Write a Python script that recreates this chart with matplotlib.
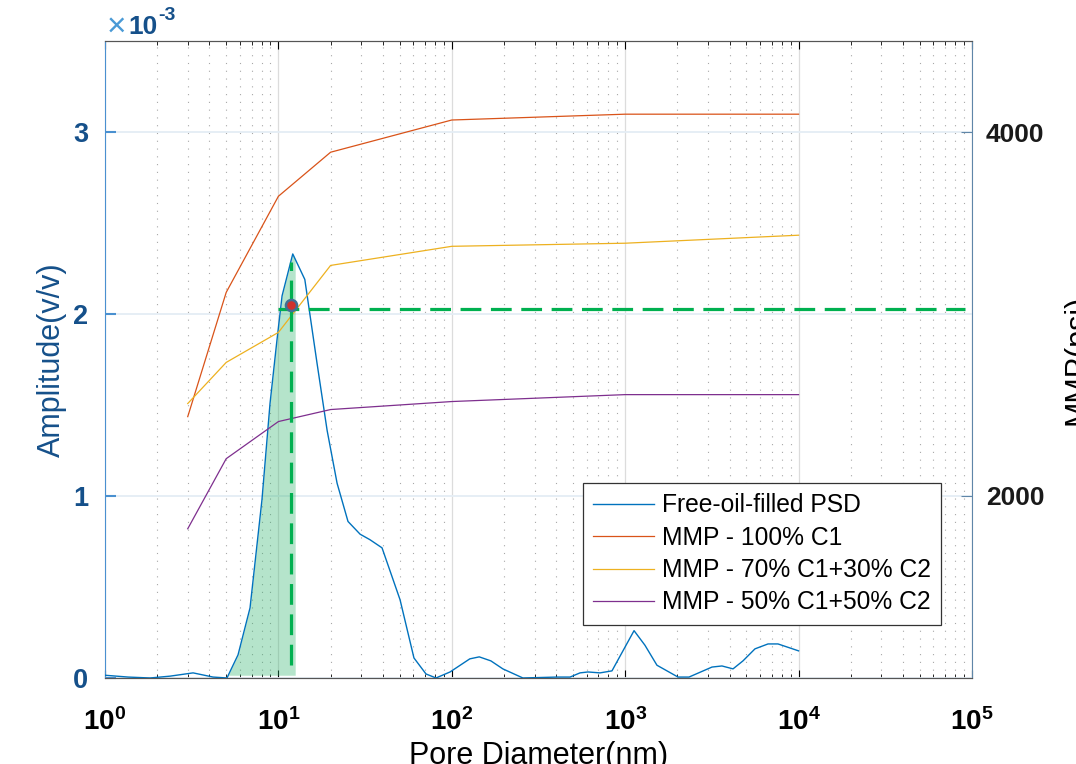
import numpy as np
import matplotlib
matplotlib.use('Agg')
import matplotlib.pyplot as plt
from matplotlib.ticker import LogLocator, NullFormatter, FixedLocator, FuncFormatter

plt.rcParams['font.family'] = ['Liberation Sans', 'DejaVu Sans']

# pore size distribution (free-oil-filled), amplitude in units of 1e-3 v/v
psd_diam = [1.0, 1.36, 1.82, 2.37, 3.22, 4.2, 5.05, 5.85, 6.86, 8.04, 8.95, 9.82,
            10.5, 12.1, 14.2, 16.7, 19.1, 21.8, 25.2, 29.6, 33.7, 39.6, 50.3, 60.5,
            71.0, 81.1, 97.7, 127, 144, 168, 197, 257, 404, 481, 549, 610, 716, 839,
            1125, 1300, 1525, 2017, 2334, 3167, 3616, 4188, 4781, 5605, 6664, 7609, 10000]
psd_amp = [0.015, 0.005, 0.0, 0.01, 0.028, 0.005, 0.0, 0.127, 0.385, 0.98, 1.51, 1.86,
           2.10, 2.33, 2.19, 1.73, 1.36, 1.07, 0.86, 0.79, 0.76, 0.715, 0.43, 0.11,
           0.022, 0.0, 0.033, 0.105, 0.116, 0.094, 0.05, 0.0, 0.005, 0.005, 0.028, 0.033,
           0.028, 0.039, 0.26, 0.18, 0.07, 0.005, 0.005, 0.06, 0.066, 0.05, 0.094, 0.16,
           0.187, 0.187, 0.149]

# MMP vs pore diameter (psi)
mmp_diam = [3, 5, 10, 20, 100, 1000, 10000]
mmp_c1 = [2436, 3119, 3647, 3889, 4066, 4098, 4098]
mmp_c1c2_70 = [2508, 2734, 2899, 3267, 3372, 3389, 3433]
mmp_c1c2_50 = [1820, 2205, 2409, 2475, 2519, 2557, 2557]

labels = ['Free-oil-filled PSD', 'MMP - 100% C1', 'MMP - 70% C1+30% C2', 'MMP - 50% C1+50% C2']

# highlighted point
mark_d = 11.8
mark_mmp = 3030
fill_lo, fill_hi = 5.05, 12.5

blue = '#0072BD'
fig = plt.figure(figsize=(10.76, 7.64), dpi=100)
ax = fig.add_axes([0.0976, 0.1126, 0.8057, 0.8337])
ax2 = ax.twinx()

x = np.array(psd_diam)
y = np.array(psd_amp) * 1e-3

# shaded area under the PSD
xf = np.logspace(np.log10(fill_lo), np.log10(fill_hi), 200)
yf = np.interp(np.log10(xf), np.log10(x), y)
ax.fill_between(xf, 0.015e-3, yf, color='#2db36b', alpha=0.35, lw=0, zorder=2)

l0, = ax.plot(x, y, color=blue, lw=1.0, zorder=3)

ax.set_xscale('log')
ax.set_xlim(1, 1e5)
ax.set_ylim(0, 3.5e-3)
ax.yaxis.set_major_locator(FixedLocator([0, 1e-3, 2e-3, 3e-3]))
ax.yaxis.set_major_formatter(FuncFormatter(lambda v, p: '%d' % round(v * 1e3)))
ax.xaxis.set_major_locator(LogLocator(base=10, numticks=10))
ax.xaxis.set_minor_locator(LogLocator(base=10, subs=np.arange(2, 10), numticks=20))
ax.xaxis.set_minor_formatter(NullFormatter())

ax.grid(which='major', axis='x', color='#dcdcdc', lw=0.9)
ax.grid(which='minor', axis='x', color='#a8a8a8', lw=0.8, linestyle=(0, (1, 6)))
ax.grid(which='major', axis='y', color='#e4edf5', lw=1.3)

# MMP curves on the right axis
l1, = ax2.plot(mmp_diam, mmp_c1, color='#D95319', lw=0.9)
l2, = ax2.plot(mmp_diam, mmp_c1c2_70, color='#EDB120', lw=0.9)
l3, = ax2.plot(mmp_diam, mmp_c1c2_50, color='#7E2F8E', lw=0.9)
ax2.set_ylim(1000, 4500)
ax2.set_yticks([2000, 4000])

# green guide lines and marker
ax2.plot([mark_d, mark_d], [1072, 3284], color='#00b050', lw=2.3, dashes=(6.5, 3))
ax2.plot([10.0, 91000], [mark_mmp, mark_mmp], color='#00b050', lw=2.3, dashes=(6.5, 3))
ax2.plot(mark_d, mark_mmp + 20, 'o', ms=8, mfc='#d0312d', mec='#3f6f94', mew=1.8, zorder=5)

# tick / spine styling
for a in (ax, ax2):
    a.tick_params(which='both', direction='in', top=True)
ax.tick_params(axis='x', which='major', length=6, labelsize=20, pad=22)
ax.tick_params(axis='x', which='minor', length=3)
ax.tick_params(axis='y', colors='#4a90d0', labelcolor='#15508a', labelsize=19.5, length=8, width=1.5, pad=12)
ax2.tick_params(axis='y', colors='#5f86a8', labelcolor='#1a1a1a', labelsize=19, length=8, pad=10)
for lab in ax.get_xticklabels() + ax.get_yticklabels() + ax2.get_yticklabels():
    lab.set_fontweight('bold')

ax.spines['left'].set_color('#4a90d0')
ax2.spines['left'].set_visible(False)
ax2.spines['right'].set_color('#5f86a8')
for a in (ax, ax2):
    a.spines['top'].set_color('#555555')
    a.spines['bottom'].set_color('#555555')
ax.spines['right'].set_visible(False)

ax.set_ylabel('Amplitude(v/v)', color='#15508a', fontsize=22, va='center')
ax.yaxis.set_label_coords(-0.061, 0.5)
ax.set_xlabel('Pore Diameter(nm)', fontsize=22, va='center')
ax.xaxis.set_label_coords(0.5, -0.122)
ax2.set_ylabel('MMP(psi)', fontsize=22, va='center')
ax2.yaxis.set_label_coords(1.122, 0.5)

fig.text(0.099, 0.964, '\u00d7', color='#4a9ad6', fontsize=24, va='center')
fig.text(0.119, 0.965, '10', color='#15508a', fontsize=19, fontweight='bold', va='center')
fig.text(0.147, 0.980, '-3', color='#15508a', fontsize=14, fontweight='bold', va='center')

leg = ax2.legend([l0, l1, l2, l3], labels, loc='upper right', bbox_to_anchor=(0.9643, 0.306),
                 borderaxespad=0, fontsize=17.7, frameon=True, fancybox=False, framealpha=1,
                 edgecolor='#333333', handlelength=2.5, handletextpad=0.3, labelspacing=0.34,
                 borderpad=0.42)
leg.get_frame().set_linewidth(0.9)

fig.savefig('out.png', dpi=100)
